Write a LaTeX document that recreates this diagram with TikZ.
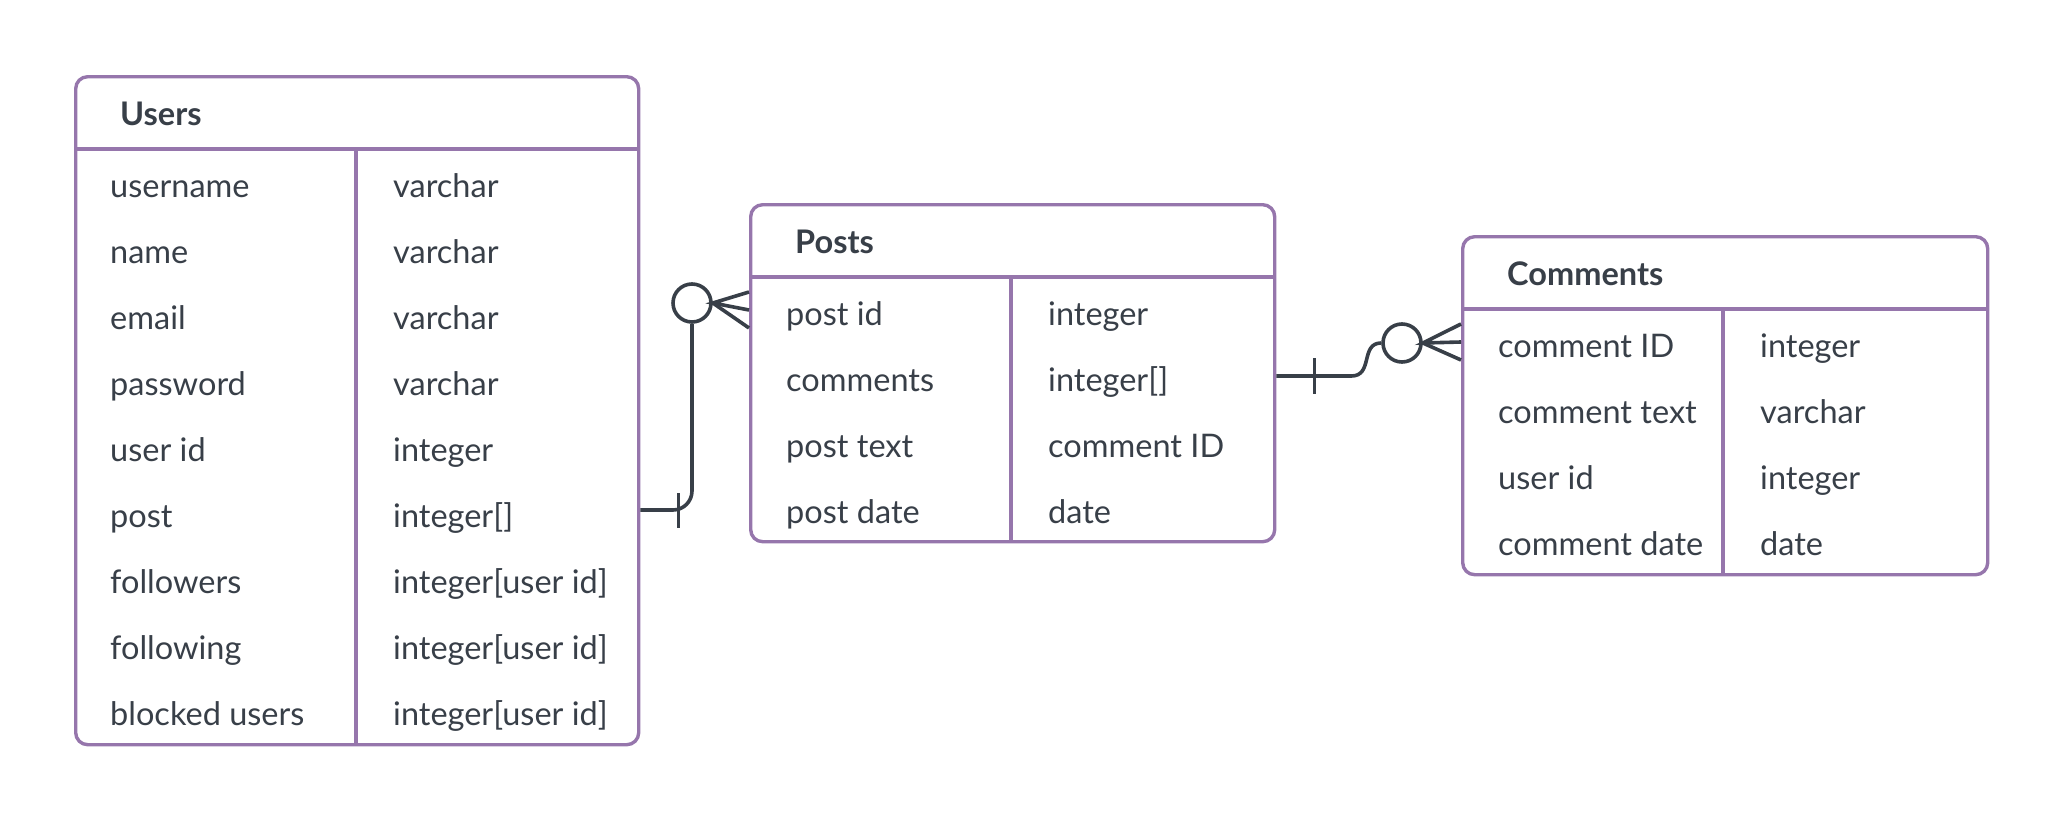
\documentclass[tikz,border=0pt]{standalone}
\usepackage{fontspec}
\setmainfont{Lato}
\usetikzlibrary{positioning}

\definecolor{erpurple}{RGB}{150,118,172}
\definecolor{erink}{RGB}{56,63,72}

\begin{document}
\begin{tikzpicture}[
            x = 1pt, y = -1pt, % one unit = one pixel of the page
            table/.style = {draw = erpurple, line width = 3.4pt, rounded corners = 12pt,
                anchor = north west, inner sep = 0pt},
            rule/.style = {draw = erpurple, line width = 3.4pt},
            title/.style = {font = \bfseries\fontsize{32.5}{38}\selectfont, text = erink,
                anchor = west, inner sep = 0pt, text height = 23pt, text depth = 7pt},
            field/.style = {font = \fontsize{32.5}{38}\selectfont, text = erink,
                anchor = west, inner sep = 0pt, text height = 23pt, text depth = 7pt},
            link/.style = {draw = erink, line width = 3.6pt},
            ring/.style = {circle, draw = erink, line width = 3.6pt, fill = white,
                minimum size = 38pt, inner sep = 0pt}
        ]

        \useasboundingbox (0,0) rectangle (2063,816);

        % tables
        \node[table, minimum width = 563pt, minimum height = 668pt] (users) at (74,75) {};
        \node[table, minimum width = 524pt, minimum height = 337pt] (posts) at (749,203) {};
        \node[table, minimum width = 525pt, minimum height = 338pt] (comments) at (1461,235) {};

        % header rules and column dividers
        \draw[rule] ([yshift=-74pt]users.north west) -- ([yshift=-74pt]users.north east);
        \draw[rule] ([xshift=282pt,yshift=-74pt]users.north west) -- ([xshift=282pt]users.south west);
        \draw[rule] ([yshift=-74pt]posts.north west) -- ([yshift=-74pt]posts.north east);
        \draw[rule] ([xshift=262pt,yshift=-74pt]posts.north west) -- ([xshift=262pt]posts.south west);
        \draw[rule] ([yshift=-74pt]comments.north west) -- ([yshift=-74pt]comments.north east);
        \draw[rule] ([xshift=262pt,yshift=-74pt]comments.north west) -- ([xshift=262pt]comments.south west);

        % titles
        \node[title] (users-title) at (120,117) {Users};
        \node[title] (posts-title) at (795,245) {Posts};
        \node[title] (comments-title) at (1507,277) {Comments};

        % fields
        \foreach \fname/\ftype [count=\i from 0] in {username/varchar, name/varchar,
                email/varchar, password/varchar, user id/integer, post/{integer[]},
                followers/{integer[user id]}, following/{integer[user id]},
                blocked users/{integer[user id]}} {
            \node[field] (u-name-\i) at (110,189+66*\i) {\fname};
            \node[field] (u-type-\i) at (393,189+66*\i) {\ftype};
        }
        \foreach \fname/\ftype [count=\i from 0] in {post id/integer,
                comments/{integer[]}, post text/comment ID, post date/date} {
            \node[field] (p-name-\i) at (786,317+66*\i) {\fname};
            \node[field] (p-type-\i) at (1048,317+66*\i) {\ftype};
        }
        \foreach \fname/\ftype [count=\i from 0] in {comment ID/integer,
                comment text/varchar, user id/integer, comment date/date} {
            \node[field] (c-name-\i) at (1498,349+66*\i) {\fname};
            \node[field] (c-type-\i) at (1760,349+66*\i) {\ftype};
        }

        % connector ends on the table borders
        \path (users.north east) ++(0,435) coordinate (u-post-end);
        \path (posts.north west) ++(0,107) coordinate (p-id-end);
        \path (posts.north east) ++(0,173) coordinate (p-com-end);
        \path (comments.north west) ++(0,107) coordinate (c-id-end);

        % users -> posts (one to zero or many)
        \node[ring] (ring-p) at (692,303) {};
        \draw[link, rounded corners = 19pt] (u-post-end) -| (ring-p.south);
        \draw[link] ([xshift=38pt,yshift=17pt]u-post-end) -- ([xshift=38pt,yshift=-18pt]u-post-end);
        \draw[link] ([yshift=18pt]p-id-end) -- (ring-p.east) -- (p-id-end);
        \draw[link] ([yshift=-18pt]p-id-end) -- (ring-p.east);

        % posts -> comments (one to zero or many)
        \node[ring] (ring-c) at (1402,343) {};
        \draw[link] (p-com-end) -- ++(75,0) .. controls ++(22,0) and (1360,343) .. (ring-c.west);
        \draw[link] ([xshift=38pt,yshift=18pt]p-com-end) -- ([xshift=38pt,yshift=-18pt]p-com-end);
        \draw[link] ([yshift=18pt]c-id-end) -- (ring-c.east) -- (c-id-end);
        \draw[link] ([yshift=-18pt]c-id-end) -- (ring-c.east);

    \end{tikzpicture}
\end{document}
